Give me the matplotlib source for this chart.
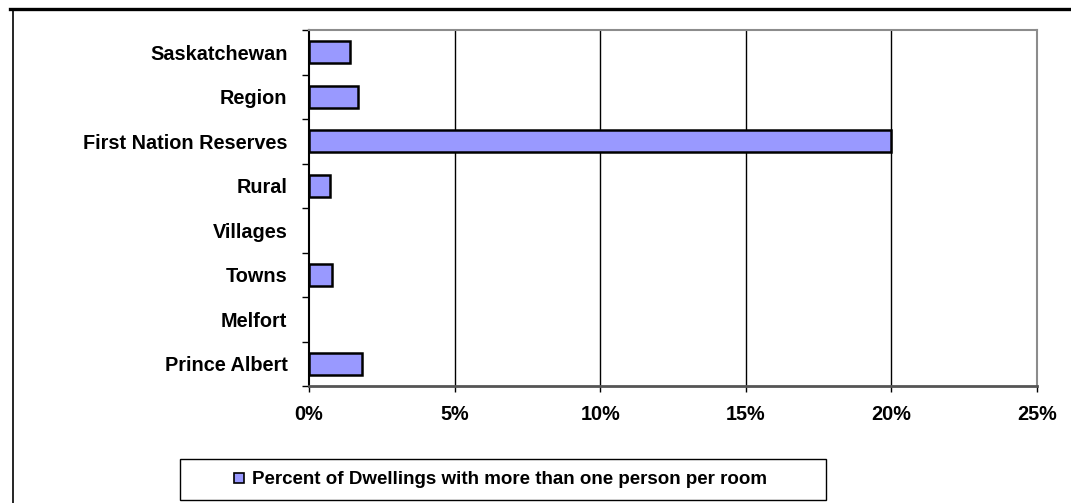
import matplotlib
matplotlib.use("Agg")
import matplotlib.pyplot as plt
from matplotlib.lines import Line2D
from matplotlib.patches import Rectangle
import numpy as np

plt.rcParams['font.family'] = ['Liberation Sans', 'DejaVu Sans']
plt.rcParams['font.weight'] = 'bold'

categories = ["Saskatchewan", "Region", "First Nation Reserves", "Rural",
              "Villages", "Towns", "Melfort", "Prince Albert"]
values = [1.41, 1.68, 20.0, 0.72, 0.0, 0.80, 0.0, 1.81]
x_ticks = [0, 5, 10, 15, 20, 25]
x_tick_labels = ["0%", "5%", "10%", "15%", "20%", "25%"]
series_name = "Percent of Dwellings with more than one person per room"
bar_color = "#9999FF"

W, H = 1071, 503
fig = plt.figure(figsize=(W / 100, H / 100), dpi=100)

# Figure border lines
fig.add_artist(Line2D([10 / W, 1.0], [1 - 9 / H, 1 - 9 / H], color="black", lw=2.4))
fig.add_artist(Line2D([12.5 / W, 12.5 / W], [1 - 9 / H, 0], color="black", lw=1.2))

left, right, top, bottom = 309, 1037, 30, 386
ax = fig.add_axes([left / W, 1 - bottom / H, (right - left) / W, (bottom - top) / H])

n = len(categories)
y = np.arange(n)
edge_widths = [1.8 if v > 0 else 0.0 for v in values]
ax.barh(y, values, height=0.5, color=bar_color, edgecolor="black",
        linewidth=edge_widths, zorder=3)
ax.set_ylim(n - 0.5, -0.5)
ax.set_xlim(0, 25)

ax.set_yticks(y)
ax.set_yticklabels(categories, fontsize=14.3, fontweight="bold")
ax.tick_params(axis="y", which="major", length=0, pad=15.5)
ax.set_yticks(np.arange(-0.5, n, 1.0), minor=True)
ax.tick_params(axis="y", which="minor", length=5, width=1.0, color="black", direction="out")

ax.set_xticks(x_ticks)
ax.set_xticklabels(x_tick_labels, fontsize=14.3, fontweight="bold")
ax.tick_params(axis="x", length=4, width=1.0, color="black", direction="out", pad=10)

for xv in x_ticks[1:-1]:
    ax.axvline(xv, color="black", lw=1.0, zorder=1)

ax.spines["left"].set_color("black")
ax.spines["left"].set_linewidth(1.5)
ax.spines["bottom"].set_color("#555555")
ax.spines["bottom"].set_linewidth(2.0)
for s in ("top", "right"):
    ax.spines[s].set_color("#8c8c8c")
    ax.spines[s].set_linewidth(1.5)

# Legend
handle = Line2D([], [], marker="s", linestyle="none", markersize=7,
                markerfacecolor=bar_color, markeredgecolor="black", markeredgewidth=1.2)
leg = fig.legend([handle], [series_name], loc="center",
                 bbox_to_anchor=(500 / W, 1 - 479.5 / H),
                 prop={"size": 13.5, "weight": "bold"}, frameon=False,
                 handlelength=0.6, handletextpad=0.4)
fig.add_artist(Rectangle((180 / W, 1 - 500 / H), (826 - 180) / W, 41 / H,
                         transform=fig.transFigure, fill=False, edgecolor="black", lw=1.0))

fig.savefig("out.png", dpi=100)
